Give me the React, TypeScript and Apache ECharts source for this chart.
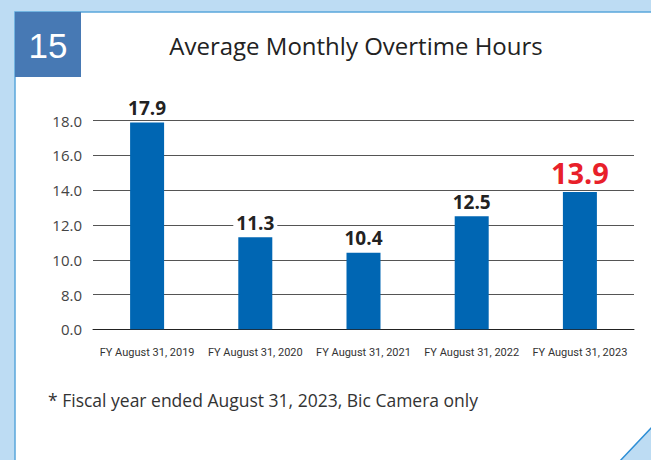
import React, { useEffect, useRef } from "react";
import * as echarts from "echarts";

const categories = [
  "FY August 31, 2019",
  "FY August 31, 2020",
  "FY August 31, 2021",
  "FY August 31, 2022",
  "FY August 31, 2023",
];
const overtimeHours = [17.9, 11.3, 10.4, 12.5, 13.9];
const yTickLabels = ["0.0", "8.0", "10.0", "12.0", "14.0", "16.0", "18.0"];
const title = "Average Monthly Overtime Hours";
const badge = "15";
const footnote = "* Fiscal year ended August 31, 2023, Bic Camera only";

// broken axis: 0..8 compressed into one step, then linear from 8
const toAxis = (v: number) => (v <= 8 ? (v / 8) * 2 : v - 6);

export default function App() {
  const ref = useRef<HTMLDivElement>(null);
  useEffect(() => {
    if (!ref.current) return;
    const chart = echarts.init(ref.current, undefined, { renderer: "svg" });
    const lastIdx = overtimeHours.length - 1;
    chart.setOption({
      animation: false,
      backgroundColor: "#bddcf3",
      graphic: [
        {
          type: "rect",
          shape: { x: 15, y: 12, width: 651, height: 460 },
          style: { fill: "#ffffff", stroke: "#5aa6dc", lineWidth: 1.5 },
          z: -10,
        },
        {
          type: "rect",
          shape: { x: 15, y: 12, width: 66, height: 65 },
          style: { fill: "#4779b4" },
          z: -5,
        },
        {
          type: "text",
          x: 48,
          y: 45,
          style: {
            text: badge,
            fill: "#ffffff",
            font: "35px 'Liberation Sans', Arial, sans-serif",
            align: "center",
            verticalAlign: "middle",
          },
        },
        {
          type: "text",
          x: 356,
          y: 45,
          style: {
            text: title,
            fill: "#222222",
            font: "24px 'Open Sans', sans-serif",
            align: "center",
            verticalAlign: "middle",
          },
        },
        {
          type: "text",
          x: 48,
          y: 400,
          style: {
            text: footnote,
            fill: "#333333",
            font: "17.5px 'Open Sans', sans-serif",
            align: "left",
            verticalAlign: "middle",
          },
        },
        {
          type: "polygon",
          shape: { points: [[619, 462], [653, 426], [653, 462]] },
          style: { fill: "#bddcf3", stroke: "#2f8fd6", lineWidth: 1.5 },
        },
      ],
      grid: { left: 93, right: 17, top: 120.7, bottom: 130.7, containLabel: false },
      xAxis: {
        type: "category",
        data: categories,
        axisLine: { show: true, lineStyle: { color: "#222", width: 1 } },
        axisTick: { show: false },
        axisLabel: {
          interval: 0,
          margin: 18,
          color: "#333",
          fontSize: 11,
          fontFamily: "Roboto, sans-serif",
        },
      },
      yAxis: {
        type: "value",
        min: 0,
        max: 12,
        interval: 2,
        axisLine: { show: false },
        axisTick: { show: false },
        splitLine: { show: true, lineStyle: { color: "#555", width: 1 } },
        axisLabel: {
          margin: 11,
          color: "#444",
          fontSize: 15,
          fontFamily: "'Open Sans', sans-serif",
          formatter: (val: number) => yTickLabels[Math.round(val / 2)] ?? "",
        },
      },
      series: [
        {
          type: "bar",
          barWidth: 34,
          itemStyle: { color: "#0066b3" },
          data: overtimeHours.map((v, i) => ({
            value: toAxis(v),
            label:
              i === lastIdx
                ? {
                    color: "#e8202a",
                    fontSize: 29,
                    fontWeight: "bold",
                  }
                : undefined,
          })),
          label: {
            show: true,
            position: "top",
            distance: 5,
            color: "#222",
            fontSize: 19,
            fontWeight: "bold",
            fontFamily: "'Open Sans', sans-serif",
            backgroundColor: "#ffffff",
            padding: [0, 3],
            formatter: (p: any) => overtimeHours[p.dataIndex].toFixed(1),
          },
        },
      ],
    });
    return () => chart.dispose();
  }, []);
  return (
    <div
      ref={ref}
      style={{ position: "absolute", left: 0, top: 0, width: 651, height: 460 }}
    />
  );
}
